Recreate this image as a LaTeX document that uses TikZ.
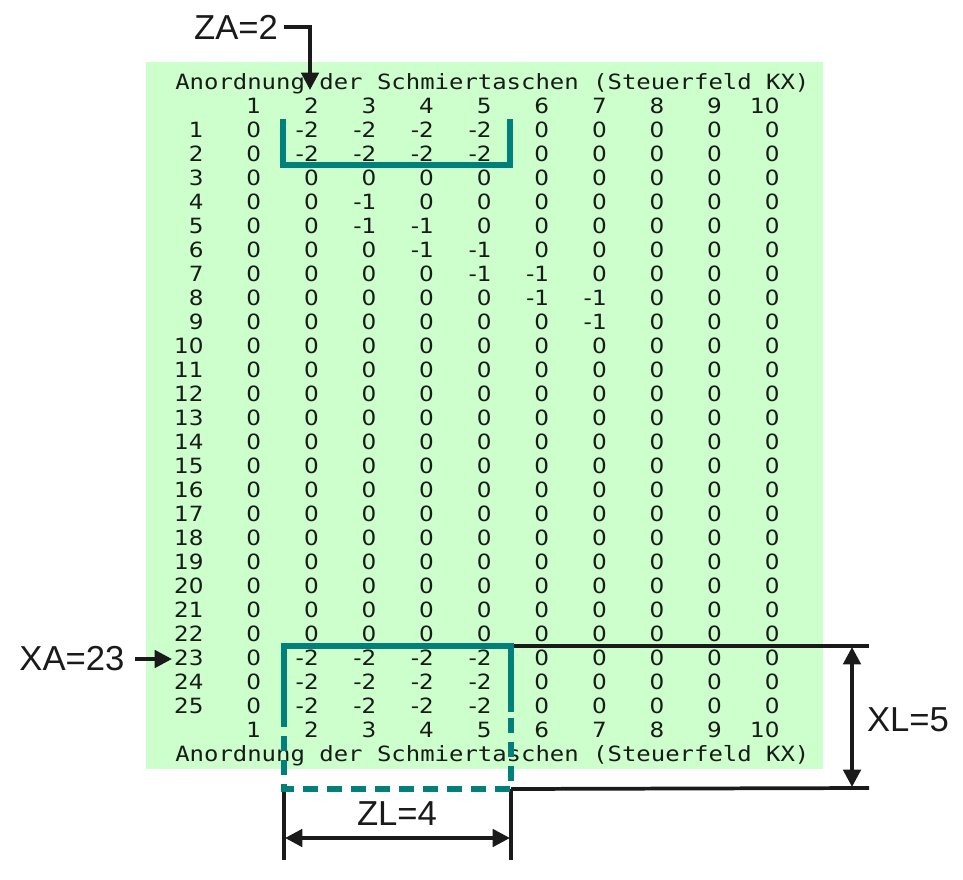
\documentclass[tikz,border=0pt]{standalone}
\usepackage{fontspec}
\setmainfont{Liberation Sans}
\newfontfamily\matfont[FakeStretch=1.14]{DejaVu Sans Mono}
\newfontfamily\cellfont[FakeStretch=1.1]{DejaVu Sans}
\usetikzlibrary{arrows.meta}
\definecolor{fieldgreen}{HTML}{CCFFCC}
\definecolor{pocketteal}{HTML}{007F7B}
\definecolor{dimblack}{HTML}{1A1A1A}
\tikzset{
	cell/.style = {inner sep=0pt, anchor=base east, font=\cellfont\fontsize{15.75}{18}\selectfont, text=dimblack},
	heading/.style = {inner sep=0pt, anchor=base west, font=\matfont\fontsize{15.75}{18}\selectfont, text=dimblack},
	dimtext/.style = {inner sep=0pt, font=\fontsize{26}{30}\selectfont, text=dimblack},
	pocket/.style = {draw=pocketteal, line width=5pt},
	pocketopen/.style = {pocket, dash pattern=on 11pt off 7pt},
	dimline/.style = {draw=dimblack, line width=2.8pt},
	dimarrow/.style = {dimline, {Triangle[length=13pt,width=13pt]}-{Triangle[length=13pt,width=13pt]}},
	pointer/.style = {dimline, -{Triangle[length=13pt,width=13pt]}}
}
\begin{document}
\begin{tikzpicture}[x=0.75pt, y=-0.75pt]
		\useasboundingbox (0,0) rectangle (963,880);
		\fill[fieldgreen] (146,62) rectangle (823,769);
		\node [heading] (titletop) at (175,89.7) {Anordnung der Schmiertaschen (Steuerfeld KX)};
		\node [heading] (titlebot) at (175,761.7) {Anordnung der Schmiertaschen (Steuerfeld KX)};
		\foreach \c in {1,...,10} {
			\node [cell] (h\c) at ({203.8+57.6*\c},113.7) {\c};
			\node [cell] (f\c) at ({203.8+57.6*\c},737.7) {\c};
		}
		\foreach \r/\vals in {1/{0,-2,-2,-2,-2,0,0,0,0,0},
				2/{0,-2,-2,-2,-2,0,0,0,0,0},
				4/{0,0,-1,0,0,0,0,0,0,0},
				5/{0,0,-1,-1,0,0,0,0,0,0},
				6/{0,0,0,-1,-1,0,0,0,0,0},
				7/{0,0,0,0,-1,-1,0,0,0,0},
				8/{0,0,0,0,0,-1,-1,0,0,0},
				9/{0,0,0,0,0,0,-1,0,0,0},
				23/{0,-2,-2,-2,-2,0,0,0,0,0},
				24/{0,-2,-2,-2,-2,0,0,0,0,0},
				25/{0,-2,-2,-2,-2,0,0,0,0,0}} {
			\node [cell] (r\r) at (203.8,{137.7+24*(\r-1)}) {\r};
			\foreach \v [count=\c] in \vals
				\node [cell] (v\r-\c) at ({203.8+57.6*\c},{137.7+24*(\r-1)}) {\v};
		}
		\foreach \r in {3,10,11,...,22} {
			\node [cell] (r\r) at (203.8,{137.7+24*(\r-1)}) {\r};
			\foreach \c in {1,...,10}
				\node [cell] (v\r-\c) at ({203.8+57.6*\c},{137.7+24*(\r-1)}) {0};
		}

		\coordinate (boxnw) at (284,646);
		\coordinate (boxne) at (511,646);
		\coordinate (boxsw) at (284,789);
		\coordinate (boxse) at (511,789);
		\coordinate (xltop) at (869,646);
		\coordinate (xlbot) at (869,788);
		\coordinate (xlup) at (852,647);
		\coordinate (xldown) at (852,787);
		\coordinate (zlleft) at (284,860);
		\coordinate (zlright) at (511,860);
		\coordinate (zlarrowl) at (285,838);
		\coordinate (zlarrowr) at (510,838);
		\coordinate (zatip) at (310,90);
		\coordinate (xatip) at (172,659);

		\draw [dimline] (boxne) -- (xltop);
		\draw [dimline] (boxse) -- (xlbot);
		\draw [dimarrow] (xlup) -- (xldown);
		\draw [dimline] (boxsw) -- (zlleft);
		\draw [dimline] (boxse) -- (zlright);
		\draw [dimarrow] (zlarrowl) -- (zlarrowr);

		\draw [pocket] (283,119) -- (283,165) -- (510,165) -- (510,119);
		\draw [pocket] (284,712) -- (boxnw) -- (boxne) -- (511,712);
		\draw [pocketopen] (284,712) -- (boxsw) -- (boxse) -- (511,712);

		\node [dimtext] (za) at (236,27) {ZA=2};
		\node [dimtext] (xa) at (72,659) {XA=23};
		\node [dimtext] (xl) at (908,720) {XL=5};
		\node [dimtext] (zl) at (397,814) {ZL=4};
		\draw [pointer] (za.east) ++(6,0) -| (zatip);
		\draw [pointer] (xa.east) ++(10,0) -- (xatip);
\end{tikzpicture}
\end{document}
